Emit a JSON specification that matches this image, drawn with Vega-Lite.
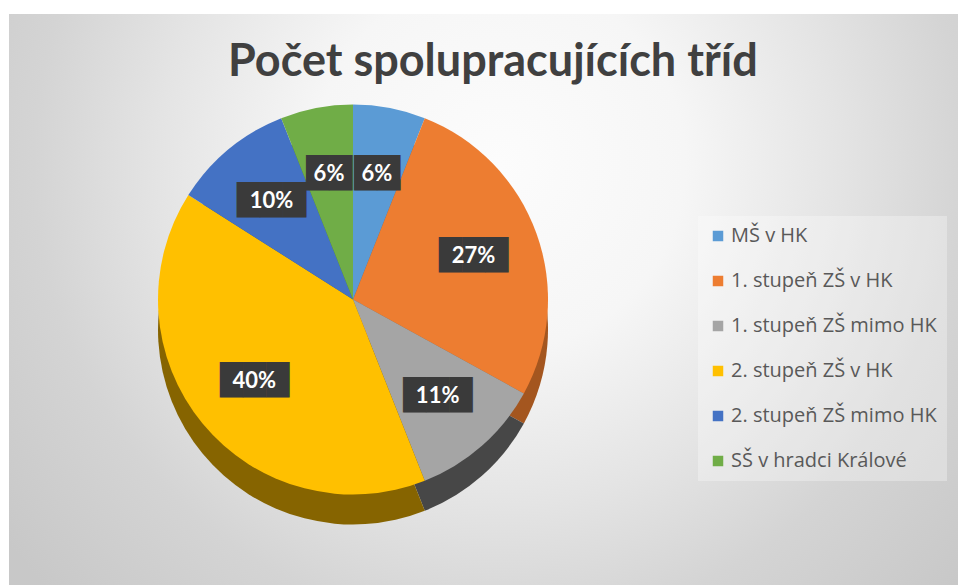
{
  "$schema": "https://vega.github.io/schema/vega-lite/v6.json",
  "autosize": {"type": "pad"},
  "padding": {"left": 9, "top": 14, "right": 0, "bottom": 0},
  "background": "#ffffff",
  "spacing": 0,
  "title": {
    "text": "Počet spolupracujících tříd",
    "font": "Lato",
    "fontSize": 45,
    "fontWeight": "bold",
    "color": "#404040",
    "frame": "group",
    "anchor": "start",
    "orient": "top",
    "offset": 0,
    "baseline": "alphabetic",
    "dy": 107,
    "dx": 219
  },
  "config": {
    "legend": {
      "symbolType": "square",
      "symbolSize": 110,
      "symbolStrokeWidth": 0,
      "symbolOpacity": 1,
      "labelFont": "Open Sans",
      "labelFontSize": 20,
      "labelColor": "#595959",
      "labelOffset": 3,
      "labelLimit": 400,
      "rowPadding": 25,
      "padding": 10,
      "fillColor": "rgba(255,255,255,0.3)"
    }
  },
  "data": {
    "values": [
      {"poradi": 1, "skupina": "MŠ v HK", "podil": 0.06},
      {"poradi": 2, "skupina": "1. stupeň ZŠ v HK", "podil": 0.27},
      {"poradi": 3, "skupina": "1. stupeň ZŠ mimo HK", "podil": 0.11},
      {"poradi": 4, "skupina": "2. stupeň ZŠ v HK", "podil": 0.40},
      {"poradi": 5, "skupina": "2. stupeň ZŠ mimo HK", "podil": 0.10},
      {"poradi": 6, "skupina": "SŠ v hradci Králové", "podil": 0.06}
    ]
  },
  "hconcat": [
    {
      "width": 688,
      "height": 571,
      "view": {
        "stroke": null,
        "fill": {
          "gradient": "radial",
          "x1": 0.7122, "y1": 0.3031, "r1": 0,
          "x2": 0.7122, "y2": 0.3031, "r2": 0.9012,
          "stops": [
            {"offset": 0, "color": "#fcfcfc"},
            {"offset": 0.3, "color": "#f6f6f6"},
            {"offset": 0.55, "color": "#e4e4e4"},
            {"offset": 0.75, "color": "#d4d4d4"},
            {"offset": 1, "color": "#c8c8c8"}
          ]
        }
      },
      "layer": [
        {
          "mark": {"type": "arc", "radius": 195, "yOffset": 30},
          "encoding": {
            "theta": {"field": "podil", "type": "quantitative", "stack": true},
            "order": {"field": "poradi", "type": "quantitative"},
            "color": {
              "field": "skupina",
              "type": "nominal",
              "scale": {
                "domain": ["MŠ v HK", "1. stupeň ZŠ v HK", "1. stupeň ZŠ mimo HK", "2. stupeň ZŠ v HK", "2. stupeň ZŠ mimo HK", "SŠ v hradci Králové"],
                "range": ["#3a6d9c", "#a4561f", "#474747", "#866400", "#2c4f8c", "#4d7a30"]
              },
              "legend": null
            }
          }
        },
        {
          "mark": {"type": "arc", "radius": 195},
          "encoding": {
            "theta": {"field": "podil", "type": "quantitative", "stack": true},
            "order": {"field": "poradi", "type": "quantitative"},
            "color": {
              "field": "skupina",
              "type": "nominal",
              "scale": {
                "domain": ["MŠ v HK", "1. stupeň ZŠ v HK", "1. stupeň ZŠ mimo HK", "2. stupeň ZŠ v HK", "2. stupeň ZŠ mimo HK", "SŠ v hradci Králové"],
                "range": ["#5b9bd5", "#ed7d31", "#a5a5a5", "#ffc000", "#4472c4", "#70ad47"]
              },
              "legend": null
            }
          }
        },
        {
          "mark": {"type": "text", "radius": 128, "font": "DejaVu Sans", "fontSize": 30, "fill": "#3a3a3a", "baseline": "middle"},
          "encoding": {
            "theta": {"field": "podil", "type": "quantitative", "stack": true},
            "order": {"field": "poradi", "type": "quantitative"},
            "text": {"condition": {"test": "datum.podil >= 0.1", "value": "███"}, "value": "██"}
          }
        },
        {
          "mark": {"type": "text", "radius": 128, "font": "Lato", "fontSize": 22, "fontWeight": "bold", "fill": "#ffffff", "baseline": "middle"},
          "encoding": {
            "theta": {"field": "podil", "type": "quantitative", "stack": true},
            "order": {"field": "poradi", "type": "quantitative"},
            "text": {"field": "podil", "type": "quantitative", "format": ".0%"}
          }
        }
      ],
      "resolve": {"scale": {"color": "independent"}}
    },
    {
      "width": 261,
      "height": 571,
      "view": {
        "stroke": null,
        "fill": {
          "gradient": "radial",
          "x1": -0.0753, "y1": 0.2627, "r1": 0,
          "x2": -0.0753, "y2": 0.2627, "r2": 1.0858,
          "stops": [
            {"offset": 0, "color": "#fcfcfc"},
            {"offset": 0.3, "color": "#f6f6f6"},
            {"offset": 0.55, "color": "#e4e4e4"},
            {"offset": 0.75, "color": "#d4d4d4"},
            {"offset": 1, "color": "#c8c8c8"}
          ]
        }
      },
      "mark": {"type": "square", "filled": true, "opacity": 0},
      "encoding": {
        "color": {
          "field": "skupina",
          "type": "nominal",
          "scale": {
            "domain": ["MŠ v HK", "1. stupeň ZŠ v HK", "1. stupeň ZŠ mimo HK", "2. stupeň ZŠ v HK", "2. stupeň ZŠ mimo HK", "SŠ v hradci Králové"],
            "range": ["#5b9bd5", "#ed7d31", "#a5a5a5", "#ffc000", "#4472c4", "#70ad47"]
          },
          "legend": {"title": null, "orient": "none", "legendX": 689, "legendY": 202, "symbolOpacity": 1}
        }
      }
    }
  ]
}
